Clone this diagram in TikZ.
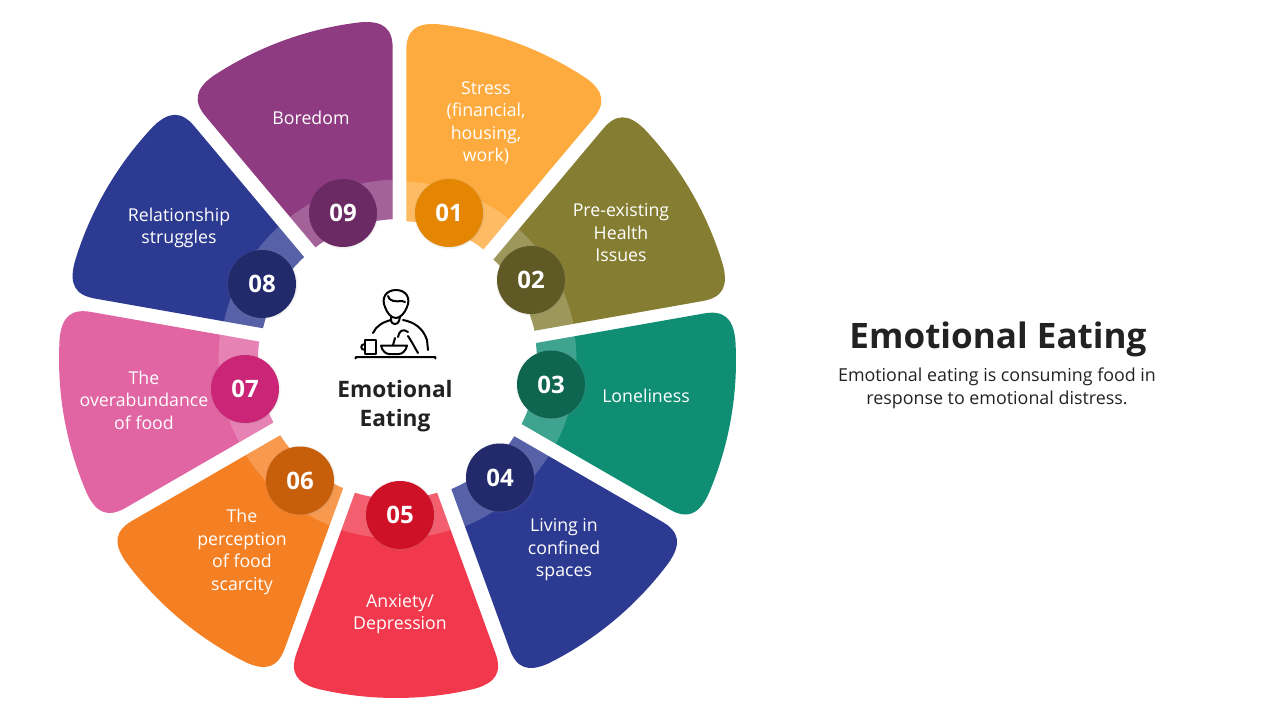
\documentclass[tikz,border=0pt]{standalone}
\usepackage{fontspec}
\setmainfont{Open Sans}
\usetikzlibrary{shadows}
\definecolor{stressc}{HTML}{FDAB3E}
\definecolor{healthc}{HTML}{857E32}
\definecolor{lonelyc}{HTML}{108E74}
\definecolor{spacesc}{HTML}{2D3A92}
\definecolor{anxietyc}{HTML}{F1384C}
\definecolor{scarcec}{HTML}{F58024}
\definecolor{abundc}{HTML}{E065A2}
\definecolor{relatec}{HTML}{2D3A92}
\definecolor{boredc}{HTML}{8E3B82}
\definecolor{stressd}{HTML}{E58603}
\definecolor{healthd}{HTML}{5F5925}
\definecolor{lonelyd}{HTML}{0F6650}
\definecolor{spacesd}{HTML}{222A6B}
\definecolor{anxietyd}{HTML}{CE1126}
\definecolor{scarced}{HTML}{C75E0A}
\definecolor{abundd}{HTML}{CB2577}
\definecolor{related}{HTML}{222A6B}
\definecolor{boredd}{HTML}{6B2A63}
\definecolor{inkc}{HTML}{222222}
\tikzset{
  numdot/.style={circle,minimum size=51pt,inner sep=0pt,text=white,font=\fontsize{18}{20}\selectfont\bfseries,
    circular drop shadow={opacity=0.35,shadow xshift=0pt,shadow yshift=0pt,shadow scale=1.06}},
  petaltext/.style={text=white,align=center,font=\fontsize{13.3}{16.9}\selectfont},
  icon/.style={draw=black,line width=1.5pt,line cap=round,line join=round}
}
\begin{document}
\begin{tikzpicture}[x=0.75pt,y=-0.75pt]
\useasboundingbox (0,0) rectangle (1280,720);
\foreach \ang/\col/\cx/\cy in {70/stressc/399.5/360,30/healthc/399/361.5,-10/lonelyc/398/360.5,-50/spacesc/397.5/361,-90/anxietyc/396/360,-130/scarcec/397/360,-170/abundc/397/359,150/relatec/398.5/359,110/boredc/399.5/358}{
  \begin{scope}[shift={(\cx,\cy)},rotate=\ang]
    \fill[\col] (-17.2:139) -- (293,-99.4) .. controls (311.9,-106.3) and (322.6,-100.1) .. (-13.5:338)
      arc[start angle=-13.5,end angle=13.5,radius=338]
      .. controls (322.6,100.1) and (311.9,106.3) .. (293,99.4) -- (17.2:139)
      arc[start angle=17.2,end angle=-17.2,radius=139] -- cycle;
    \fill[white,opacity=0.2] (-17.2:139) -- (-17.8:178.5)
      arc[start angle=-17.8,end angle=17.8,radius=178.5] -- (17.2:139)
      arc[start angle=17.2,end angle=-17.2,radius=139] -- cycle;
  \end{scope}
}
\node[numdot,fill=stressd] (num01) at (449,213) {01};
\node[numdot,fill=healthd] (num02) at (531,280) {02};
\node[numdot,fill=lonelyd] (num03) at (551,384.5) {03};
\node[numdot,fill=spacesd] (num04) at (500,477.5) {04};
\node[numdot,fill=anxietyd] (num05) at (400,515) {05};
\node[numdot,fill=scarced] (num06) at (300,480.5) {06};
\node[numdot,fill=abundd] (num07) at (245,389) {07};
\node[numdot,fill=related] (num08) at (262,284) {08};
\node[numdot,fill=boredd] (num09) at (343,213) {09};
\node[petaltext] (stress) at (486,123) {Stress\\(financial,\\housing,\\work)};
\node[petaltext] (health) at (621,233) {Pre-existing\\Health\\Issues};
\node[petaltext] (lonely) at (646,396) {Loneliness};
\node[petaltext] (spaces) at (564,550) {Living in\\confined\\spaces};
\node[petaltext] (anxiety) at (400,614) {Anxiety/\\Depression};
\node[petaltext] (scarce) at (242,552) {The\\perception\\of food\\scarcity};
\node[petaltext] (abund) at (144,400) {The\\overabundance\\of food};
\node[petaltext] (relate) at (179,228) {Relationship\\struggles};
\node[petaltext] (bored) at (311,118) {Boredom};
\node[text=inkc,align=center,font=\fontsize{17}{21.5}\selectfont\bfseries] (hub) at (395,406) {Emotional\\Eating};
\node[text=inkc,font=\fontsize{26.3}{32}\selectfont\bfseries] (title) at (998,339) {Emotional Eating};
\node[text=inkc,align=center,font=\fontsize{13.4}{17}\selectfont] (desc) at (997,388) {Emotional eating is consuming food in\\response to emotional distress.};
\draw[icon] (355.5,358.5) .. controls (355.5,357) .. (357,357) -- (434,357) .. controls (435.5,357) .. (435.5,358.5);
\draw[icon] (385,307) .. controls (381,298) and (386,290) .. (396,290) .. controls (406,290) and (411,298) .. (407,307) .. controls (405,313) and (400,318) .. (396,318) .. controls (391,318) and (387,313) .. (385,307);
\draw[icon] (388,296) .. controls (389,301) and (395,302) .. (402,301) -- (405,302);
\draw[icon] (391,317) -- (391,321) .. controls (392,325) and (398,325) .. (399,321) -- (400,317);
\draw[icon] (373,333) .. controls (376,326) and (383,322) .. (391,320);
\draw[icon] (403,320) .. controls (414,322) and (423,328) .. (427,340) -- (428,350);
\draw[icon] (408,336) .. controls (412,342) and (415,348) .. (418,353);
\draw[icon] (408,332) .. controls (403,328) and (399,331) .. (398,337);
\draw[icon] (395,338) -- (393,345);
\draw[icon] (365,339.5) rectangle (376,354);
\draw[icon] (365,344) .. controls (360,344) and (360,350) .. (365,350);
\draw[icon] (381,345.5) -- (407,345.5) .. controls (406,351) and (402,354) .. (399,354) -- (389,354) .. controls (386,354) and (382,351) .. (381,345.5);
\end{tikzpicture}
\end{document}
